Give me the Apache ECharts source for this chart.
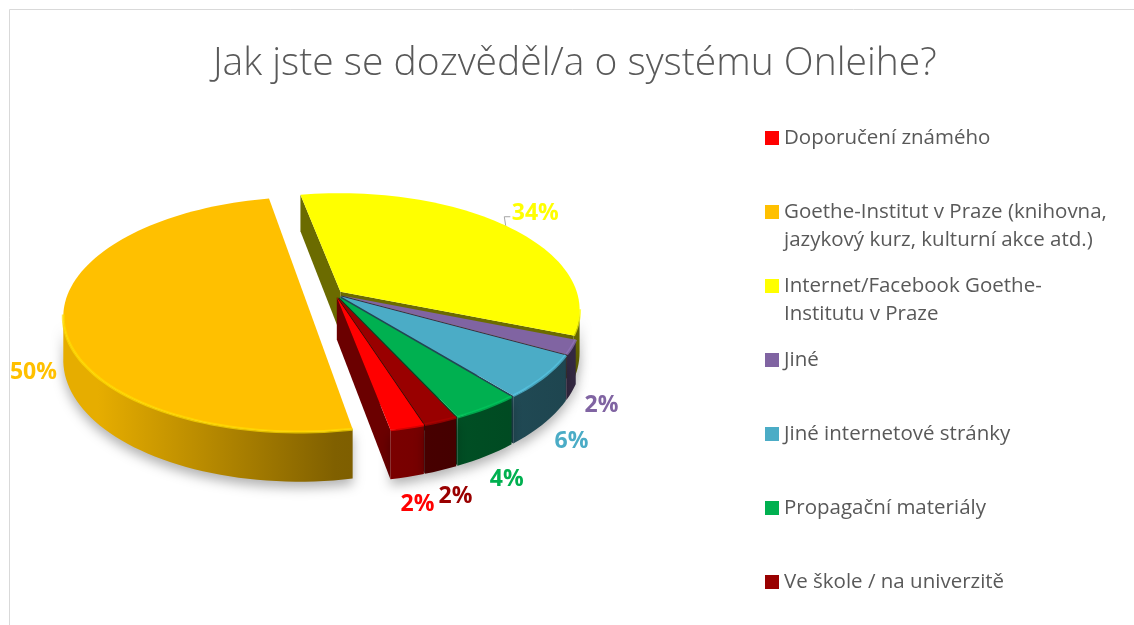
<!DOCTYPE html>
<html>
<head>
<meta charset="utf-8">
<title>Jak jste se dozvěděl/a o systému Onleihe?</title>
<script src="https://cdn.jsdelivr.net/npm/echarts@6/dist/echarts.min.js"></script>
<style>
  html, body { margin: 0; padding: 0; background: #fff; }
  #main { width: 1134px; height: 625px; }
</style>
</head>
<body>
<div id="main"></div>
<script>
// odpovědi v pořadí legendy
const categories = [
  "Doporučení známého",
  "Goethe-Institut v Praze (knihovna, jazykový kurz, kulturní akce atd.)",
  "Internet/Facebook Goethe-Institutu v Praze",
  "Jiné",
  "Jiné internetové stránky",
  "Propagační materiály",
  "Ve škole / na univerzitě"
];
const shares = [2, 50, 34, 2, 6, 4, 2];
const legendLabels = [
  "Doporučení známého",
  "Goethe-Institut v Praze (knihovna,\njazykový kurz, kulturní akce atd.)",
  "Internet/Facebook Goethe-\nInstitutu v Praze",
  "Jiné",
  "Jiné internetové stránky",
  "Propagační materiály",
  "Ve škole / na univerzitě"
];

const colors = ["#FF0000", "#FFC000", "#FFFF00", "#8064A2", "#4BACC6", "#00B050", "#990000"];
const FONT = '"Open Sans", "Noto Sans", sans-serif';
const RAD = Math.PI / 180;

// 3D kolac: stred, poloosy, perspektiva, vyska sten
const layout = {
  cx: 335, cy: 294, rx: 237, ry: 114,
  persp: 0.15, depth: 42,
  firstAngle: 161.8,   // uhel prvni vysece, po smeru hodin od "zadu"
  labelRadius: 1.12,
  labelDrop: 1.15,     // popisky predni casti o kus pod spodni hranou
  backLabelRadius: 1.2
};

const total = shares.reduce((s, v) => s + v, 0);
const startAngles = [];
shares.reduce((acc, v) => {
  startAngles.push(layout.firstAngle + acc / total * 360);
  return acc + v;
}, 0);
// nejvetsi vysec je vysunuta
const pulled = shares.indexOf(Math.max(...shares));

function project(u, w, h) {
  const s = 1 / (1 + layout.persp * w);
  return [layout.cx + layout.rx * u * s, layout.cy + (layout.depth * h - layout.ry * w) * s];
}

function shade(hex, f) {
  const n = parseInt(hex.slice(1), 16);
  const c = [n >> 16 & 255, n >> 8 & 255, n & 255].map(v => Math.min(255, Math.round(v * f)));
  return "rgb(" + c.join(",") + ")";
}

function wallFill(color) {
  return new echarts.graphic.LinearGradient(
    layout.cx - layout.rx, 0, layout.cx + layout.rx, 0,
    [
      { offset: 0, color: shade(color, 0.9) },
      { offset: 0.5, color: shade(color, 0.5) },
      { offset: 1, color: shade(color, 0.4) }
    ],
    true
  );
}

function renderItem(params, api) {
  const i = params.seriesIndex;
  const color = colors[i];
  const value = api.value(0);
  const a = startAngles[i];
  const b = a + value / total * 360;
  const mid = (a + b) / 2;
  const ex = i === pulled ? 0.13 : 0.03;
  const ou = ex * Math.sin(mid * RAD);
  const ow = ex * Math.cos(mid * RAD);
  const at = (deg, r, h) => project(ou + r * Math.sin(deg * RAD), ow + r * Math.cos(deg * RAD), h);
  const arc = (from, to, h) => {
    const n = Math.max(2, Math.ceil(Math.abs(to - from) / 2));
    const pts = [];
    for (let k = 0; k <= n; k++) pts.push(at(from + (to - from) * k / n, 1, h));
    return pts;
  };
  const children = [];

  // rezy vysece (jen ty otocene k divakovi)
  const eyeW = -1 / layout.persp;
  [[a, -1], [b, 1]].forEach(([deg, dir]) => {
    const nu = dir * Math.cos(deg * RAD);
    const nw = -dir * Math.sin(deg * RAD);
    if (ou * nu + (ow - eyeW) * nw >= 0) return;
    const wc = ow + 0.5 * Math.cos(deg * RAD);
    children.push({
      type: "polygon",
      z2: 100 - wc * 40,
      shape: { points: [at(deg, 0, 0), at(deg, 1, 0), at(deg, 1, 1), at(deg, 0, 1)] },
      style: { fill: shade(color, 0.42) }
    });
  });

  // predni obvodova stena + svetla hrana
  const lim = Math.acos(-layout.persp) / RAD;
  for (let base = 0; base <= 360; base += 360) {
    const lo = Math.max(a, base + lim);
    const hi = Math.min(b, base + 360 - lim);
    if (hi <= lo) continue;
    children.push({
      type: "polygon",
      z2: 200,
      shape: { points: arc(lo, hi, 0).concat(arc(hi, lo, 1)) },
      style: {
        fill: wallFill(color),
        shadowBlur: 12,
        shadowColor: "rgba(0,0,0,0.3)",
        shadowOffsetY: 6
      }
    });
    children.push({
      type: "polyline",
      z2: 310,
      shape: { points: arc(lo, hi, 0) },
      style: { stroke: shade(color, 1.15), lineWidth: 3, opacity: 0.7, fill: null }
    });
  }

  // horni plocha
  children.push({
    type: "polygon",
    z2: 300,
    shape: { points: [at(mid, 0, 0)].concat(arc(a, b, 0)) },
    style: { fill: color }
  });

  // popisek
  const back = Math.cos(mid * RAD) > 0;
  const lp = back
    ? at(mid, layout.backLabelRadius, 0)
    : at(mid, layout.labelRadius, layout.labelDrop);
  if (back) {
    children.push({
      type: "polyline",
      z2: 400,
      shape: { points: [at(mid, 1, 0), [lp[0] - 31, lp[1] + 3], [lp[0] - 25, lp[1] + 3]] },
      style: { stroke: "#A6A6A6", lineWidth: 1, fill: null }
    });
  }
  children.push({
    type: "text",
    z2: 400,
    x: lp[0],
    y: lp[1],
    style: {
      text: value + "%",
      fill: color,
      font: "bold 23px " + FONT,
      align: "center",
      verticalAlign: "middle"
    }
  });

  return { type: "group", children: children };
}

const myChart = echarts.init(document.getElementById("main"));

const option = {
  backgroundColor: "#fff",
  animation: false,
  title: {
    text: "Jak jste se dozvěděl/a o systému Onleihe?",
    left: 208,
    top: 39,
    textStyle: {
      fontFamily: FONT,
      fontWeight: 300,
      fontSize: 39,
      color: "#595959"
    }
  },
  legend: {
    orient: "vertical",
    left: 760,
    top: 96,
    height: 560,
    padding: [0, 5, 0, 5],
    itemWidth: 14,
    itemHeight: 14,
    itemGap: -10,
    icon: "rect",
    selectedMode: false,
    // kazda polozka ma stejnou vysku tri radku, prvni radek textu u znacky
    formatter: name => {
      const label = legendLabels[categories.indexOf(name)];
      return label.indexOf("\n") >= 0 ? "\n" + label : "\n" + label + "\n";
    },
    textStyle: {
      fontFamily: FONT,
      fontSize: 20.5,
      lineHeight: 28,
      color: "#595959"
    },
    data: categories
  },
  graphic: [
    {
      type: "rect",
      silent: true,
      z: -10,
      shape: { x: 9.5, y: 9.5, width: 1400, height: 800 },
      style: { fill: "none", stroke: "#D9D9D9", lineWidth: 1 }
    }
  ],
  series: categories.map((name, i) => ({
    type: "custom",
    name: name,
    coordinateSystem: "none",
    silent: true,
    itemStyle: { color: colors[i] },
    renderItem: renderItem,
    data: [[shares[i]]]
  }))
};

myChart.setOption(option);
</script>
</body>
</html>
